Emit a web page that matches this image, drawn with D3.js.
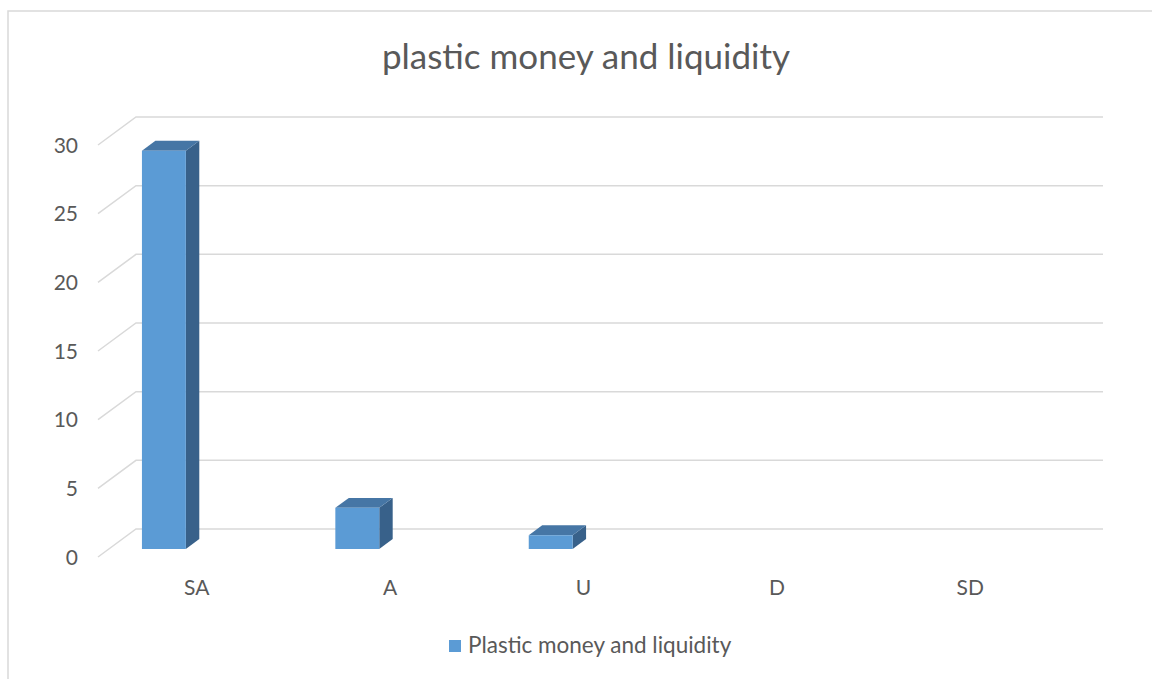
<!DOCTYPE html>
<html>
<head>
<meta charset="utf-8">
<script src="https://cdn.jsdelivr.net/npm/d3@7/dist/d3.min.js"></script>
<style>
  html, body { margin: 0; padding: 0; background: #ffffff; }
  svg { display: block; }
  text { font-family: "Lato", "Open Sans", sans-serif; fill: #595959; }
</style>
</head>
<body>
<svg id="chart" width="1152" height="679"></svg>
<script>
// ---- data ----
const categories = ["SA", "A", "U", "D", "SD"];
const values = [29, 3, 1, 0, 0];
const yTicks = [0, 5, 10, 15, 20, 25, 30];
const seriesName = "Plastic money and liquidity";
const titleText = "plastic money and liquidity";

// ---- layout ----
const W = 1152, H = 679;
const svg = d3.select("#chart");

// chart border
svg.append("rect")
  .attr("x", 8).attr("y", 11)
  .attr("width", W + 20).attr("height", H + 20)
  .attr("fill", "#fff").attr("stroke", "#d9d9d9").attr("stroke-width", 1.5);

// 3D geometry (front plane + depth vector)
const depthDX = 38, depthDY = -28;
const x = d3.scaleBand().domain(categories).range([98, 1065]);
const y = d3.scaleLinear().domain([0, 30]).range([557, 145]);

// gridlines: diagonal on side wall + horizontal on back wall
const backRight = 1103;
const grid = svg.append("g");
yTicks.forEach(t => {
  const yf = y(t);
  grid.append("path")
    .attr("d", `M${x.range()[0]},${yf} L${x.range()[0] + depthDX},${yf + depthDY} L${backRight},${yf + depthDY}`)
    .attr("fill", "none").attr("stroke", "#d9d9d9").attr("stroke-width", 1.5);
});

// tick labels
svg.append("g").selectAll("text").data(yTicks).join("text")
  .attr("x", 78).attr("y", d => y(d) - 1)
  .attr("text-anchor", "end").attr("dominant-baseline", "central")
  .style("font-size", "21px")
  .text(d => d);

// bars
const d1 = 0.286, d2 = 0.64;
const offFrac = 0.171, widthFrac = 0.227;
const bw = x.bandwidth();
const bars = svg.append("g");
categories.forEach((c, i) => {
  const v = values[i];
  if (v <= 0) return;
  const xl = x(c) + bw * offFrac + d1 * depthDX;
  const xr = xl + bw * widthFrac;
  const yb = y(0) + d1 * depthDY;
  const yt = y(v) + d1 * depthDY;
  const ddx = (d2 - d1) * depthDX, ddy = (d2 - d1) * depthDY;
  // side face
  bars.append("path")
    .attr("d", `M${xr},${yb} L${xr + ddx},${yb + ddy} L${xr + ddx},${yt + ddy} L${xr},${yt} Z`)
    .attr("fill", "#38618a");
  // top face
  bars.append("path")
    .attr("d", `M${xl},${yt} L${xl + ddx},${yt + ddy} L${xr + ddx},${yt + ddy} L${xr},${yt} Z`)
    .attr("fill", "#4676a5");
  // front face
  bars.append("rect")
    .attr("x", xl).attr("y", yt).attr("width", xr - xl).attr("height", yb - yt)
    .attr("fill", "#5b9bd5");
});

// category labels
svg.append("g").selectAll("text").data(categories).join("text")
  .attr("x", d => x(d) + bw / 2 + 2).attr("y", 586)
  .attr("text-anchor", "middle").attr("dominant-baseline", "central")
  .style("font-size", "21px")
  .text(d => d);

// title
svg.append("text")
  .attr("x", 586).attr("y", 55)
  .attr("text-anchor", "middle").attr("dominant-baseline", "central")
  .style("font-size", "35px")
  .text(titleText);

// legend
const lg = svg.append("g");
lg.append("rect").attr("x", 449).attr("y", 640).attr("width", 12).attr("height", 12).attr("fill", "#5b9bd5");
lg.append("text").attr("x", 468).attr("y", 644.5)
  .attr("dominant-baseline", "central").style("font-size", "22.5px")
  .text(seriesName);
</script>
</body>
</html>
